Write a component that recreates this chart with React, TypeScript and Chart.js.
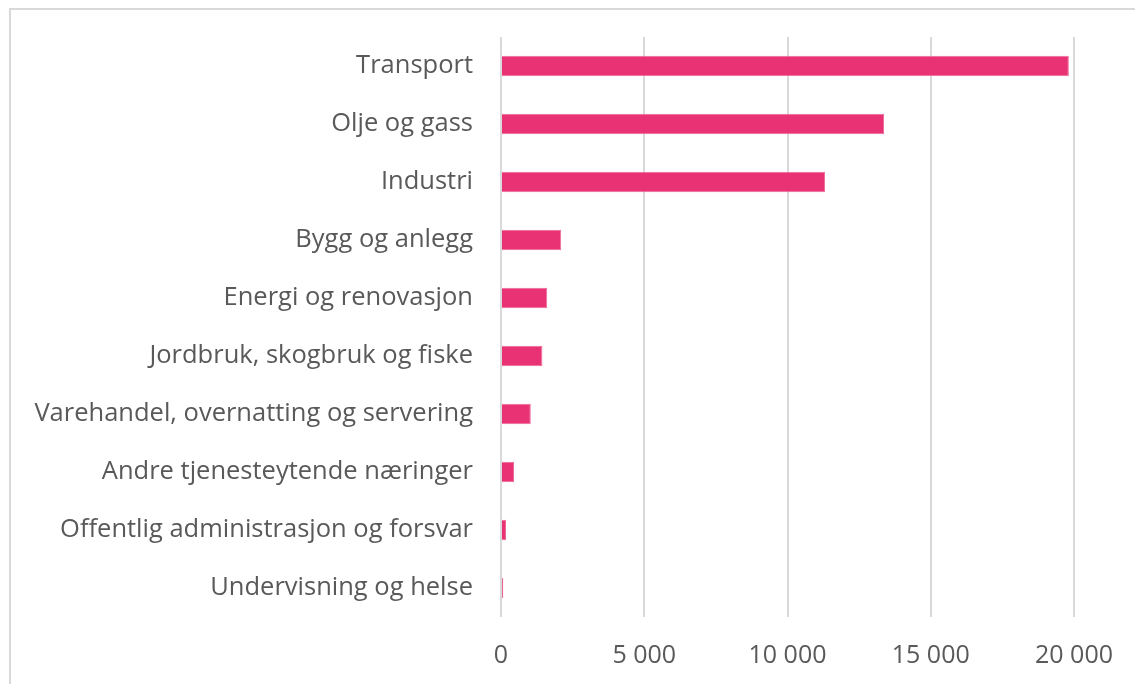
import React, { useEffect, useRef } from "react";
import { Chart, registerables } from "chart.js";

Chart.register(...registerables);

const categories = [
  "Transport",
  "Olje og gass",
  "Industri",
  "Bygg og anlegg",
  "Energi og renovasjon",
  "Jordbruk, skogbruk og fiske",
  "Varehandel, overnatting og servering",
  "Andre tjenesteytende næringer",
  "Offentlig administrasjon og forsvar",
  "Undervisning og helse",
];

const values = [19820, 13370, 11310, 2100, 1615, 1445, 1040, 455, 175, 80];

const xTicks = [0, 5000, 10000, 15000, 20000];

const FONT = "'Open Sans', sans-serif";

export default function App() {
  const ref = useRef<HTMLCanvasElement | null>(null);

  useEffect(() => {
    document.body.style.margin = "0";
    const ctx = ref.current!;
    const chart = new Chart(ctx, {
      type: "bar",
      data: {
        labels: categories,
        datasets: [
          {
            data: values,
            backgroundColor: "#E93273",
            borderColor: "#EF6B99",
            borderWidth: 1,
            borderSkipped: "start",
            categoryPercentage: 1,
            barPercentage: 0.357,
          },
        ],
      },
      options: {
        indexAxis: "y",
        animation: false,
        responsive: false,
        maintainAspectRatio: false,
        layout: { padding: { top: 37, right: 61, bottom: 0, left: 0 } },
        plugins: {
          legend: { display: false },
          tooltip: { enabled: false },
        },
        scales: {
          x: {
            min: 0,
            max: 20000,
            afterFit: (s: any) => {
              s.height = 67;
              s.paddingLeft = 0;
              s.paddingRight = 0;
            },
            afterBuildTicks: (s: any) => {
              s.ticks = xTicks.map((v) => ({ value: v }));
            },
            grid: { color: "#d9d9d9", lineWidth: 2, drawTicks: false },
            border: { display: false },
            ticks: {
              padding: 24,
              color: "#595959",
              font: { family: FONT, size: 25 },
              callback: (v: any) =>
                Number(v).toLocaleString("en-US").replace(/,/g, " "),
            },
          },
          y: {
            afterFit: (s: any) => {
              s.width = 501;
              s.paddingTop = 0;
              s.paddingBottom = 0;
            },
            grid: { display: false, drawTicks: false },
            border: { display: false },
            ticks: {
              padding: 28,
              color: "#595959",
              font: { family: FONT, size: 25.5 },
            },
          },
        },
      },
    });
    return () => chart.destroy();
  }, []);

  return (
    <div
      style={{
        position: "fixed",
        left: 0,
        top: 0,
        width: 1135,
        height: 684,
        overflow: "hidden",
        background: "#fff",
      }}
    >
      <div
        style={{
          position: "absolute",
          left: 9,
          top: 8,
          width: 1200,
          height: 800,
          border: "2px solid #d9d9d9",
        }}
      />
      <canvas
        ref={ref}
        width={1135}
        height={684}
        style={{ position: "absolute", left: 0, top: 0 }}
      />
    </div>
  );
}
